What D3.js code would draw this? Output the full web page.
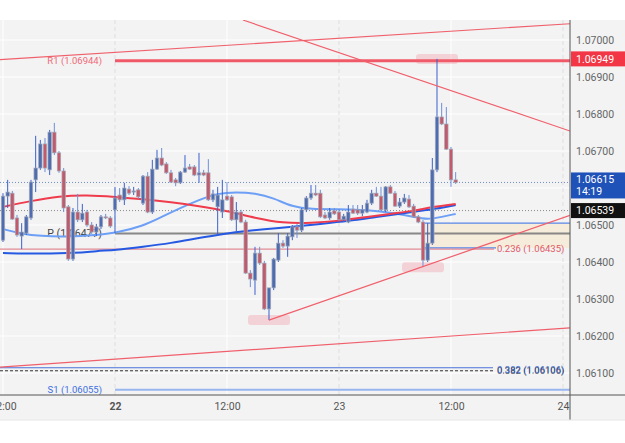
<!DOCTYPE html>
<html>
<head>
<meta charset="utf-8">
<script src="https://cdn.jsdelivr.net/npm/d3@7"></script>
<style>
  body { margin: 0; background: #fff; }
  text { font-family: Roboto, "Noto Sans", Arial, sans-serif; }
</style>
</head>
<body>
<svg id="chart" width="625" height="443"></svg>
<script>
// 30 min candles, hours are counted from the 22nd 00:00
const firstCandleHour = -12;
const candleStep = 0.5;

const opens = [1.06459,1.06578,1.06586,1.06519,1.06470,1.06478,1.06519,1.06622,1.06654,1.06719,1.06649,1.06751,1.06695,1.06646,1.06549,1.06408,1.06535,1.06514,1.06535,1.06500,1.06481,1.06495,1.06522,1.06519,
  1.06541,1.06581,1.06568,1.06597,1.06589,1.06595,1.06559,1.06632,1.06535,1.06651,1.06681,1.06665,1.06641,1.06622,1.06614,1.06643,1.06657,1.06657,1.06635,1.06641,1.06641,1.06568,1.06549,1.06535,
  1.06578,1.06576,1.06514,1.06535,1.06508,1.06370,1.06351,1.06424,1.06397,1.06273,1.06330,1.06405,1.06451,1.06443,1.06468,1.06495,1.06486,1.06541,1.06573,1.06586,1.06586,1.06527,1.06519,1.06538,
  1.06535,1.06514,1.06508,1.06543,1.06541,1.06532,1.06535,1.06559,1.06586,1.06578,1.06541,1.06603,1.06586,1.06551,1.06562,1.06570,1.06551,1.06522,1.06508,1.06405,1.06451,1.06649,1.06792,1.06773,
  1.06705,1.06622];
const highs = [1.06586,1.06622,1.06592,1.06527,1.06505,1.06527,1.06622,1.06741,1.06730,1.06735,1.06757,1.06776,1.06700,1.06654,1.06554,1.06546,1.06584,1.06557,1.06541,1.06508,1.06503,1.06527,1.06530,1.06524,
  1.06603,1.06600,1.06614,1.06605,1.06603,1.06600,1.06635,1.06643,1.06676,1.06703,1.06708,1.06670,1.06649,1.06627,1.06646,1.06689,1.06665,1.06662,1.06695,1.06649,1.06678,1.06595,1.06603,1.06622,
  1.06616,1.06581,1.06562,1.06541,1.06514,1.06378,1.06441,1.06441,1.06403,1.06330,1.06411,1.06478,1.06459,1.06478,1.06500,1.06503,1.06546,1.06578,1.06608,1.06608,1.06595,1.06535,1.06546,1.06546,
  1.06543,1.06530,1.06554,1.06554,1.06554,1.06554,1.06568,1.06595,1.06603,1.06603,1.06605,1.06608,1.06592,1.06573,1.06584,1.06581,1.06557,1.06527,1.06514,1.06505,1.06681,1.06949,1.06830,1.06819,
  1.06711,1.06643];
const lows = [1.06454,1.06546,1.06514,1.06468,1.06435,1.06473,1.06514,1.06589,1.06649,1.06643,1.06635,1.06689,1.06641,1.06535,1.06403,1.06403,1.06508,1.06508,1.06495,1.06476,1.06470,1.06489,1.06516,1.06492,
  1.06478,1.06562,1.06554,1.06581,1.06581,1.06570,1.06554,1.06532,1.06530,1.06649,1.06659,1.06638,1.06614,1.06605,1.06611,1.06641,1.06649,1.06632,1.06614,1.06632,1.06565,1.06562,1.06473,1.06519,
  1.06565,1.06511,1.06478,1.06505,1.06368,1.06332,1.06311,1.06392,1.06270,1.06243,1.06324,1.06400,1.06438,1.06414,1.06459,1.06465,1.06481,1.06535,1.06568,1.06578,1.06519,1.06516,1.06514,1.06527,
  1.06511,1.06508,1.06505,1.06530,1.06527,1.06524,1.06532,1.06554,1.06576,1.06538,1.06535,1.06584,1.06549,1.06546,1.06557,1.06546,1.06519,1.06505,1.06386,1.06400,1.06446,1.06643,1.06770,1.06703,
  1.06603,1.06611];
const closes = [1.06578,1.06589,1.06516,1.06473,1.06481,1.06522,1.06616,1.06654,1.06719,1.06654,1.06751,1.06695,1.06646,1.06546,1.06408,1.06535,1.06514,1.06532,1.06500,1.06481,1.06495,1.06522,1.06519,1.06497,
  1.06573,1.06568,1.06600,1.06586,1.06592,1.06576,1.06632,1.06535,1.06651,1.06681,1.06662,1.06641,1.06616,1.06614,1.06643,1.06654,1.06651,1.06635,1.06641,1.06635,1.06568,1.06584,1.06581,1.06568,
  1.06568,1.06514,1.06535,1.06508,1.06370,1.06354,1.06424,1.06397,1.06273,1.06330,1.06408,1.06451,1.06443,1.06470,1.06495,1.06486,1.06541,1.06573,1.06586,1.06581,1.06522,1.06519,1.06535,1.06530,
  1.06514,1.06524,1.06535,1.06532,1.06532,1.06541,1.06559,1.06586,1.06578,1.06541,1.06603,1.06586,1.06551,1.06562,1.06573,1.06549,1.06522,1.06508,1.06405,1.06451,1.06649,1.06792,1.06773,1.06705,
  1.06622,1.06615];

// moving averages, [candle index, price]
const maRed = [[0,1.06549],[6,1.06565],[12,1.06578],[18,1.06581],[24,1.06576],[30,1.06570],[36,1.06562],[42,1.06551],[48,1.06538],[54,1.06519],[60,1.06505],[66,1.06505],[72,1.06511],[78,1.06522],[84,1.06532],[88,1.06538],[92,1.06549],[97,1.06557]];
const maLightBlue = [[0,1.06489],[4,1.06476],[8,1.06470],[14,1.06468],[20,1.06473],[24,1.06478],[30,1.06497],[34,1.06522],[38,1.06546],[42,1.06568],[46,1.06586],[50,1.06589],[54,1.06586],[58,1.06573],[62,1.06549],[66,1.06543],[72,1.06543],[78,1.06541],[84,1.06532],[88,1.06522],[91,1.06514],[94,1.06522],[97,1.06530]];
const maDarkBlue = [[0,1.06424],[8,1.06422],[16,1.06424],[20,1.06430],[24,1.06432],[30,1.06441],[36,1.06451],[42,1.06465],[46,1.06473],[50,1.06481],[56,1.06489],[62,1.06495],[68,1.06503],[74,1.06511],[80,1.06522],[86,1.06532],[91,1.06541],[94,1.06546],[97,1.06554]];

const priceTicks = [1.061,1.062,1.063,1.064,1.065,1.066,1.067,1.068,1.069,1.070];
const timeTicks = [-12, 0, 12, 24, 36, 48];
const timeLabels = ["12:00", "22", "12:00", "23", "12:00", "24"];

const pivotNames = ["R1", "P", "S1"];
const pivotValues = [1.06944, 1.06477, 1.06055];
const pivotStartHour = 0;

const fibNames = ["0.236", "0.382"];
const fibValues = [1.06435, 1.06106];

const zoneTop = 1.06505, zoneBottom = 1.06438, zoneStartHour = 33;

// trend lines as [hour, price] pairs
const trendLines = [
  [[-12.32, 1.06947], [48.75, 1.07044]],
  [[13.71, 1.07054], [48.75, 1.06754]],
  [[16.5, 1.06243], [48.75, 1.06526]],
  [[-12.32, 1.06116], [48.75, 1.06222]]
];
const marked = [[93, "high"], [57, "low"], [90, "low"]];

const lastPrice = 1.06615, lastTime = "14:19";
const topPrice = 1.06949, refPrice = 1.06539;

const width = 625, height = 443;
const plot = { left: 0, top: 20, right: 570, bottom: 395 };

const svg = d3.select("#chart");

const x = d3.scaleLinear().domain([-12.321, 48.75]).range([plot.left, plot.right]);
const y = d3.scaleLinear().domain([1.060405, 1.070541]).range([plot.bottom, plot.top]);

const candles = opens.map((o, i) => ({
  i, hour: firstCandleHour + i * candleStep,
  o, h: highs[i], l: lows[i], c: closes[i]
}));
const xi = i => x(firstCandleHour + i * candleStep);

// background
svg.append("rect").attr("x", 0).attr("y", plot.top).attr("width", width).attr("height", 420 - plot.top).attr("fill", "#f3f3f3");

const defs = svg.append("defs");
defs.append("clipPath").attr("id", "plotClip").append("rect")
  .attr("x", plot.left).attr("y", plot.top).attr("width", plot.right - plot.left).attr("height", plot.bottom - plot.top);

const g = svg.append("g").attr("clip-path", "url(#plotClip)");

// grid
g.selectAll(".hgrid").data(priceTicks).enter().append("line")
  .attr("x1", plot.left).attr("x2", plot.right)
  .attr("y1", d => y(d)).attr("y2", d => y(d))
  .attr("stroke", "#ffffff").attr("stroke-width", 1);
g.selectAll(".vgrid").data(timeTicks).enter().append("line")
  .attr("x1", d => x(d)).attr("x2", d => x(d))
  .attr("y1", plot.top).attr("y2", plot.bottom)
  .attr("stroke", (d, i) => i % 2 ? "#dedede" : "#ffffff")
  .attr("stroke-dasharray", (d, i) => i % 2 ? "4,3" : null);

// zone
g.append("rect")
  .attr("x", x(zoneStartHour)).attr("y", y(zoneTop))
  .attr("width", plot.right - x(zoneStartHour)).attr("height", y(zoneBottom) - y(zoneTop))
  .attr("fill", "#f6ecdc");
g.append("path")
  .attr("d", `M${plot.right},${y(zoneTop)}H${x(zoneStartHour)}V${y(zoneBottom)}H496`)
  .attr("fill", "none").attr("stroke", "#5a86e8").attr("stroke-width", 1.2);

// fibonacci levels
g.append("line").attr("x1", 0).attr("x2", 494).attr("y1", y(fibValues[0])).attr("y2", y(fibValues[0]))
  .attr("stroke", "#e07480").attr("stroke-width", 1.3).attr("opacity", 0.8);
g.append("line").attr("x1", 0).attr("x2", 493).attr("y1", y(fibValues[1]) - 3).attr("y2", y(fibValues[1]) - 3)
  .attr("stroke", "#4a72d8").attr("stroke-width", 1.2);
g.append("line").attr("x1", 0).attr("x2", 493).attr("y1", y(fibValues[1])).attr("y2", y(fibValues[1]))
  .attr("stroke", "#333").attr("stroke-width", 1).attr("stroke-dasharray", "3,2");

// dotted price lines
g.append("line").attr("x1", 0).attr("x2", plot.right).attr("y1", y(lastPrice)).attr("y2", y(lastPrice))
  .attr("stroke", "#6f8ec8").attr("stroke-width", 1).attr("stroke-dasharray", "1,2");
g.append("line").attr("x1", 0).attr("x2", plot.right).attr("y1", y(refPrice)).attr("y2", y(refPrice))
  .attr("stroke", "#8a8a8a").attr("stroke-width", 1).attr("stroke-dasharray", "1,2");

// pivots
const pivotColors = ["#f04a5a", "#7d7d7d", "#8fb0f0"];
const pivotWidths = [3, 2, 2];
const pivotText = ["#f06a78", "#444", "#3d6fe0"];
pivotValues.forEach((v, k) => {
  g.append("line").attr("x1", x(pivotStartHour)).attr("x2", plot.right)
    .attr("y1", y(v)).attr("y2", y(v))
    .attr("stroke", pivotColors[k]).attr("stroke-width", pivotWidths[k]).attr("opacity", 0.9);
  g.append("text").attr("x", 102).attr("y", y(v)).attr("dy", "0.35em")
    .attr("text-anchor", "end").attr("font-size", k === 1 ? 10.5 : 9.5)
    .attr("fill", pivotText[k]).text(`${pivotNames[k]} (${d3.format(".5f")(v)})`);
});

// fib labels
g.append("text").attr("x", 497).attr("y", y(fibValues[0])).attr("dy", "0.35em")
  .attr("font-size", 9.5).attr("fill", "#e05a66").text(`${fibNames[0]} (${d3.format(".5f")(fibValues[0])})`);
g.append("text").attr("x", 497).attr("y", y(fibValues[1]) - 1.5).attr("dy", "0.35em")
  .attr("font-size", 9.5).attr("fill", "#4a72d8").text(`${fibNames[1]} (${d3.format(".5f")(fibValues[1])})`);
g.append("text").attr("x", 497).attr("y", y(fibValues[1])).attr("dy", "0.35em")
  .attr("font-size", 9.5).attr("fill", "#2a3550").attr("opacity", 0.8).text(`${fibNames[1]} (${d3.format(".5f")(fibValues[1])})`);

// moving averages
const maLine = d3.line().x(d => xi(d[0])).y(d => y(d[1])).curve(d3.curveBasis);
g.append("path").datum(maLightBlue).attr("d", maLine).attr("fill", "none").attr("stroke", "#6c9ff5").attr("stroke-width", 2);
g.append("path").datum(maDarkBlue).attr("d", maLine).attr("fill", "none").attr("stroke", "#2559e3").attr("stroke-width", 2);
g.append("path").datum(maRed).attr("d", maLine).attr("fill", "none").attr("stroke", "#ef3b4c").attr("stroke-width", 2);

// highlight boxes at the swing points
g.selectAll(".mark").data(marked).enter().append("rect")
  .attr("x", d => xi(d[0]) - 21)
  .attr("y", d => y(d[1] === "high" ? highs[d[0]] : lows[d[0]]) - 5)
  .attr("width", 42).attr("height", 10).attr("rx", 3)
  .attr("fill", "#f06070").attr("opacity", 0.22);

// candles
const bw = 3.4;
const cg = g.append("g");
cg.selectAll(".wick").data(candles).enter().append("line")
  .attr("x1", d => xi(d.i)).attr("x2", d => xi(d.i))
  .attr("y1", d => y(d.h)).attr("y2", d => y(d.l))
  .attr("stroke", d => d.c >= d.o ? "#3a61cf" : "#6d8fd9").attr("stroke-width", 1);
cg.selectAll(".body").data(candles).enter().append("rect")
  .attr("x", d => xi(d.i) - bw / 2)
  .attr("y", d => y(Math.max(d.o, d.c)))
  .attr("width", bw)
  .attr("height", d => Math.max(1, Math.abs(y(d.o) - y(d.c))))
  .attr("fill", d => d.c >= d.o ? "#4e6cb2" : "#c3596a")
  .attr("stroke", "#a3a8b6").attr("stroke-width", 0.7);

// trend lines
g.selectAll(".trend").data(trendLines).enter().append("line")
  .attr("x1", d => x(d[0][0])).attr("y1", d => y(d[0][1]))
  .attr("x2", d => x(d[1][0])).attr("y2", d => y(d[1][1]))
  .attr("stroke", "#f0606c").attr("stroke-width", 1.2);

// axes
svg.append("line").attr("x1", 0).attr("x2", width).attr("y1", plot.bottom).attr("y2", plot.bottom)
  .attr("stroke", "#555").attr("stroke-width", 1);
svg.append("line").attr("x1", plot.right).attr("x2", plot.right).attr("y1", plot.top).attr("y2", 420)
  .attr("stroke", "#555").attr("stroke-width", 1);
svg.append("line").attr("x1", 0).attr("x2", width).attr("y1", 420).attr("y2", 420)
  .attr("stroke", "#e6e6e6");

// ticks hidden behind the price tags are left out
const tagPrices = [topPrice, lastPrice, refPrice];
const visibleTicks = priceTicks.filter(p => tagPrices.every(t => Math.abs(y(p) - y(t)) > 9));

const yAxis = svg.append("g").attr("transform", `translate(${plot.right},0)`)
  .call(d3.axisRight(y).tickValues(visibleTicks).tickSize(0).tickPadding(6).tickFormat(d3.format(".5f")));
yAxis.select(".domain").remove();
yAxis.selectAll("text").attr("font-size", 10.5).attr("fill", "#666").attr("font-family", "Roboto, sans-serif");

const xAxis = svg.append("g").attr("transform", `translate(0,${plot.bottom})`)
  .call(d3.axisBottom(x).tickValues(timeTicks).tickSize(0).tickPadding(8).tickFormat((d, i) => timeLabels[i]));
xAxis.select(".domain").remove();
xAxis.selectAll("text").attr("font-size", 10.5).attr("fill", "#555").attr("font-family", "Roboto, sans-serif")
  .attr("font-weight", (d, i) => i === 1 ? "bold" : null);

// price tags on the right scale
function tag(price, fill, lines, h) {
  const cy = y(price);
  const top = lines.length > 1 ? cy - 10 : cy - h / 2;
  svg.append("rect").attr("x", plot.right + 1).attr("y", top)
    .attr("width", width - plot.right - 1).attr("height", h).attr("fill", fill);
  lines.forEach((t, k) => {
    svg.append("text").attr("x", plot.right + 6).attr("y", lines.length > 1 ? top + 7 + k * 12 : cy).attr("dy", "0.35em")
      .attr("font-size", 10.5).attr("fill", "#fff").text(t);
  });
}
tag(topPrice, "#f23645", [d3.format(".5f")(topPrice)], 15);
tag(lastPrice, "#1f52b8", [d3.format(".5f")(lastPrice), lastTime], 26);
tag(refPrice, "#111111", [d3.format(".5f")(refPrice)], 15);
</script>
</body>
</html>
